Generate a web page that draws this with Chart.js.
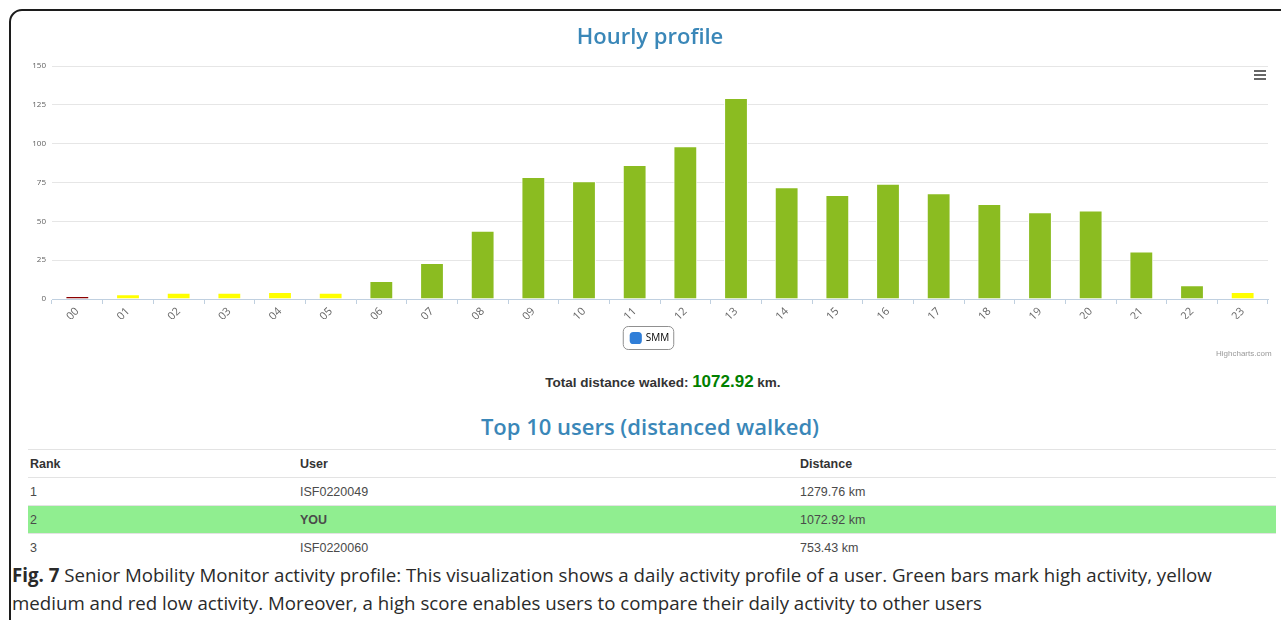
<!DOCTYPE html>
<html>
<head>
<meta charset="utf-8">
<script src="https://cdn.jsdelivr.net/npm/chart.js@4.4.1/dist/chart.umd.min.js"></script>
<style>
  body { margin: 0; width: 1281px; height: 620px; overflow: hidden; background: #fff; font-family: "Liberation Sans", Arial, sans-serif; }
  #frame { position: absolute; left: 9px; top: 9px; width: 1300px; height: 640px; border: 2px solid #1c1c1c; border-radius: 13px; }
  #chartBox { position: absolute; left: 0; top: 0; width: 1300px; height: 368px; }
  #chartTitle { position: absolute; left: 0; width: 1300px; top: 21px; line-height: 28px; text-align: center; font-family: "Open Sans", sans-serif; font-weight: 600; font-size: 22px; color: #3a87b8; }
  #menu { position: absolute; left: 1254px; top: 70px; width: 12px; }
  #menu div { height: 2px; background: #666; margin-bottom: 2px; }
  #credits { position: absolute; left: 1216px; top: 349px; font-size: 8px; color: #999; }
  #total { position: absolute; left: 0; width: 1326px; top: 372px; text-align: center; font-size: 13.5px; font-weight: bold; color: #333; }
  #total span { color: #008000; font-size: 17px; }
  #topTitle { position: absolute; left: 0; width: 1300px; top: 411px; text-align: center; font-family: "Open Sans", sans-serif; font-weight: 600; font-size: 22px; color: #3a87b8; }
  table { position: absolute; left: 28px; top: 449px; width: 1248px; border-collapse: collapse; font-size: 12.5px; color: #4a4a4a; }
  td, th { height: 27px; padding: 0 2px; border-top: 1px solid #e3e3e3; text-align: left; }
  th { font-weight: bold; color: #333; }
  tr.you td { background: #90ee90; }
  #caption { position: absolute; left: 12px; top: 561px; font-family: "Open Sans", sans-serif; font-size: 18.7px; line-height: 28px; color: #2a2a2a; white-space: nowrap; }
</style>
</head>
<body>
<div id="frame"></div>
<div id="chartBox"><canvas id="hourlyChart"></canvas></div>
<div id="chartTitle">Hourly profile</div>
<div id="menu"><div></div><div></div><div></div></div>
<div id="credits">Highcharts.com</div>
<div id="total">Total distance walked: <span>1072.92</span> km.</div>
<div id="topTitle">Top 10 users (distanced walked)</div>
<table id="ranking"></table>
<div id="caption"><b>Fig. 7</b> Senior Mobility Monitor activity profile: This visualization shows a daily activity profile of a user. Green bars mark high activity, yellow<br>medium and red low activity. Moreover, a high score enables users to compare their daily activity to other users</div>
<script>
const hours = ['00','01','02','03','04','05','06','07','08','09','10','11','12','13','14','15','16','17','18','19','20','21','22','23'];
const distance = [2, 3, 4, 4, 4.5, 4, 11.6, 23.2, 44, 78.6, 75.8, 86.3, 98.3, 129.4, 71.9, 67, 74.2, 68, 61.2, 55.8, 56.9, 30.5, 8.8, 4.5];
const activity = ['low','medium','medium','medium','medium','medium','high','high','high','high','high','high','high','high','high','high','high','high','high','high','high','high','high','medium'];
const yTicks = [0, 25, 50, 75, 100, 125, 150];

const rankUsers = ['ISF0220049', 'YOU', 'ISF0220060'];
const rankDistance = ['1279.76 km', '1072.92 km', '753.43 km'];

const levelColors = { low: '#8b0000', medium: '#ffff00', high: '#8bbc21' };

// ranking table
const table = document.getElementById('ranking');
let rows = '<tr><th style="width:266px">Rank</th><th style="width:496px">User</th><th>Distance</th></tr>';
rankUsers.forEach((u, i) => {
    const you = u === 'YOU';
    rows += '<tr' + (you ? ' class="you"' : '') + '><td>' + (i + 1) + '</td><td>' + (you ? '<b>' + u + '</b>' : u) + '</td><td>' + rankDistance[i] + '</td></tr>';
});
table.innerHTML = rows;

// rounded frame around the legend, like the highcharts one
const legendFrame = {
    id: 'legendFrame',
    afterDraw(chart) {
        const lg = chart.legend;
        if (!lg || !lg.legendHitBoxes.length) return;
        const hb = lg.legendHitBoxes[0];
        const ctx = chart.ctx;
        ctx.save();
        ctx.strokeStyle = '#909090';
        ctx.lineWidth = 1;
        ctx.beginPath();
        ctx.roundRect(hb.left - 7.5, hb.top - 6.5, hb.width + 12, hb.height + 13, 5);
        ctx.stroke();
        ctx.restore();
    }
};

const ctx = document.getElementById('hourlyChart').getContext('2d');
const hourlyChart = new Chart(ctx, {
    type: 'bar',
    data: {
        labels: hours,
        datasets: [{
            label: 'SMM',
            data: distance,
            backgroundColor: activity.map(a => levelColors[a]),
            borderColor: '#ffffff',
            borderWidth: 1,
            categoryPercentage: 1,
            barPercentage: 0.47
        }]
    },
    options: {
        responsive: true,
        maintainAspectRatio: false,
        animation: false,
        layout: { padding: { left: 32, right: 32, top: 66, bottom: 15 } },
        plugins: {
            legend: {
                position: 'bottom',
                labels: {
                    color: '#333',
                    font: { family: 'Open Sans', size: 10 },
                    boxWidth: 12,
                    boxHeight: 12,
                    padding: 14,
                    generateLabels: () => [{ text: 'SMM', fillStyle: '#2f7ed8', strokeStyle: '#2f7ed8', lineWidth: 0, pointStyle: 'rectRounded' }],
                    usePointStyle: true
                }
            },
            tooltip: { enabled: false }
        },
        scales: {
            x: {
                offset: true,
                afterFit: axis => { axis.height = 20; },
                grid: { display: true, drawOnChartArea: false, drawTicks: true, tickLength: 5, color: '#c0d0e0', offset: true },
                border: { color: '#c0d0e0' },
                ticks: { color: '#666', font: { family: 'Open Sans', size: 11 }, minRotation: 45, maxRotation: 45, padding: 1 }
            },
            y: {
                min: 0,
                max: 150,
                afterBuildTicks: axis => { axis.ticks = yTicks.map(v => ({ value: v })); },
                afterFit: axis => { axis.width = 20; },
                grid: { color: '#e6e6e6', drawTicks: false },
                border: { display: false },
                ticks: { color: '#606060', font: { family: 'Open Sans', size: 8 }, padding: 6 }
            }
        }
    },
    plugins: [legendFrame]
});
</script>
</body>
</html>
